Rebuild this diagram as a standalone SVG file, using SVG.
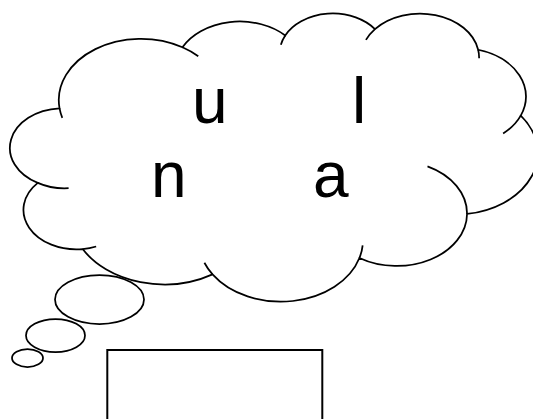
<svg xmlns="http://www.w3.org/2000/svg" width="533" height="419" viewBox="0 0 533 419">
<style>
.ln{fill:none;stroke:#000;stroke-width:1.75;vector-effect:non-scaling-stroke}
.sh{fill:#fff;stroke:#000;stroke-width:1.75;vector-effect:non-scaling-stroke}
.tx{font-family:"Liberation Sans",Arial,sans-serif;font-size:64px;fill:#000}
</style>
<rect width="533" height="419" fill="#fff"/>
<g id="cloud-callout">
  <g transform="matrix(0.012163 0 0 0.006668 12.1 12.55)">
    <path class="sh" d="M3900 14370 A6753 9190 0 0 1 14005 5202 A5333 7267 0 0 1 22456 3431 A4365 5945 0 0 1 29834 2481 A4857 6595 0 0 1 38318 5577 A5333 7273 0 0 1 41819 15461 A6775 9220 0 0 1 37404 30204 A5785 7867 0 0 1 28555 36813 A6752 9215 0 0 1 16479 39264 A7720 10543 0 0 1 5802 35468 A4360 5918 0 0 1 2111 25545 A4345 5945 0 0 1 3900 14370 Z"/>
    <path class="ln" d="M4645 26343 A4345 5945 0 0 1 2111 25545 M6911 35086 A4360 5918 0 0 1 5802 35468 M16479 39264 A6752 9215 0 0 1 15811 37523 M28821 34904 A6752 9215 0 0 1 28555 36813 M34153 23068 A5785 7867 0 0 1 37404 30204 M41819 15461 A5333 7273 0 0 1 40371 18137 M38318 5577 A4857 6595 0 0 1 38395 6841 M29091 4095 A4857 6595 0 0 1 29834 2481 M22097 4821 A4365 5945 0 0 1 22456 3431 M14005 5202 A6753 9190 0 0 1 15305 6551 M4127 15789 A6753 9190 0 0 1 3900 14370"/>
  </g>
  <ellipse class="sh" cx="99.5" cy="299.5" rx="44.5" ry="24.5"/>
  <ellipse class="sh" cx="55.5" cy="335.5" rx="29.5" ry="16.5"/>
  <ellipse class="sh" cx="27.5" cy="358" rx="15.5" ry="9"/>
  <text class="tx"><tspan x="192" y="123">u</tspan><tspan x="352" y="123">l</tspan><tspan x="151" y="197">n</tspan><tspan x="313" y="197">a</tspan></text>
</g>
<g id="box">
  <rect x="107.3" y="350" width="215" height="100" fill="#fff" stroke="#000" stroke-width="2"/>
</g>
</svg>
